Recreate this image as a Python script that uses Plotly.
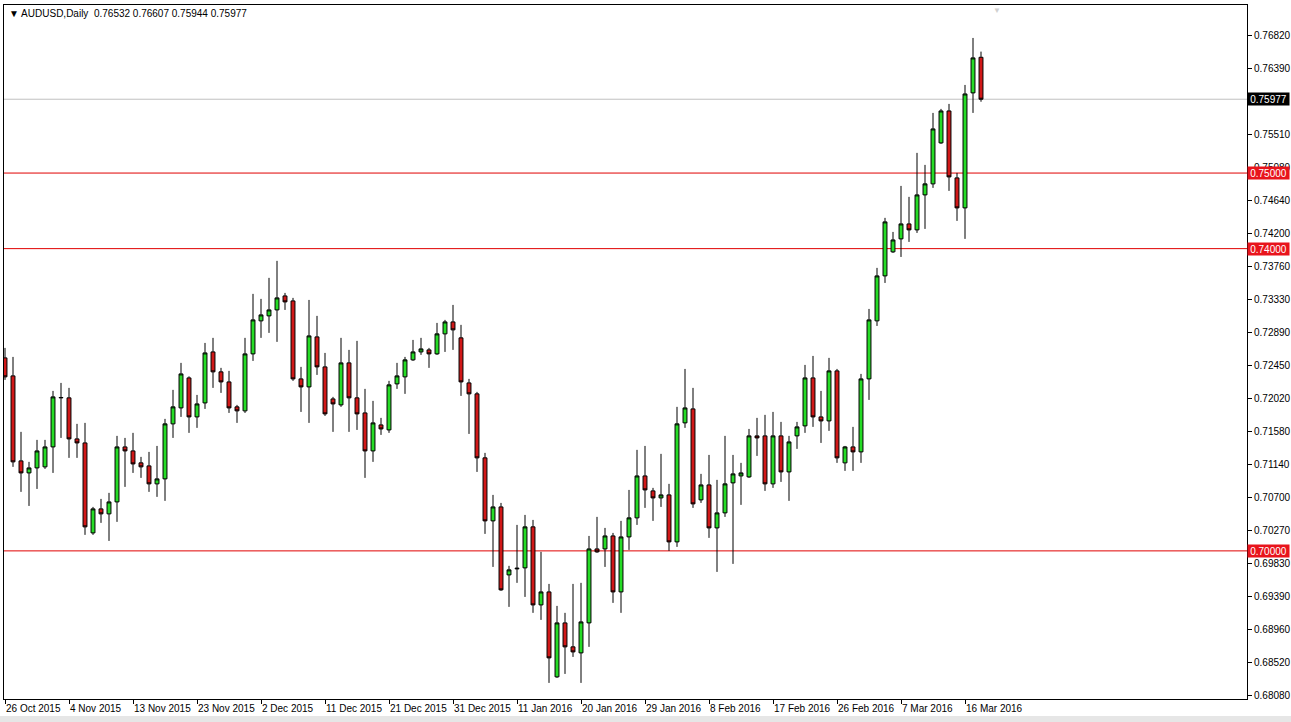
import plotly.graph_objects as go
from datetime import date

symbol = "AUDUSD"
timeframe = "Daily"

dates = [
    "2015-10-26", "2015-10-27", "2015-10-28", "2015-10-29", "2015-10-30",
    "2015-11-01", "2015-11-02", "2015-11-03", "2015-11-04", "2015-11-05", "2015-11-06",
    "2015-11-08", "2015-11-09", "2015-11-10", "2015-11-11", "2015-11-12", "2015-11-13",
    "2015-11-15", "2015-11-16", "2015-11-17", "2015-11-18", "2015-11-19", "2015-11-20",
    "2015-11-22", "2015-11-23", "2015-11-24", "2015-11-25", "2015-11-26", "2015-11-27",
    "2015-11-29", "2015-11-30",
    "2015-12-01", "2015-12-02", "2015-12-03", "2015-12-04",
    "2015-12-06", "2015-12-07", "2015-12-08", "2015-12-09", "2015-12-10", "2015-12-11",
    "2015-12-13", "2015-12-14", "2015-12-15", "2015-12-16", "2015-12-17", "2015-12-18",
    "2015-12-20", "2015-12-21", "2015-12-22", "2015-12-23", "2015-12-24",
    "2015-12-27", "2015-12-28", "2015-12-29", "2015-12-30", "2015-12-31",
    "2016-01-03", "2016-01-04", "2016-01-05", "2016-01-06", "2016-01-07", "2016-01-08",
    "2016-01-10", "2016-01-11", "2016-01-12", "2016-01-13", "2016-01-14", "2016-01-15",
    "2016-01-17", "2016-01-18", "2016-01-19", "2016-01-20", "2016-01-21", "2016-01-22",
    "2016-01-24", "2016-01-25", "2016-01-26", "2016-01-27", "2016-01-28", "2016-01-29",
    "2016-01-31",
    "2016-02-01", "2016-02-02", "2016-02-03", "2016-02-04", "2016-02-05",
    "2016-02-07", "2016-02-08", "2016-02-09", "2016-02-10", "2016-02-11", "2016-02-12",
    "2016-02-14", "2016-02-15", "2016-02-16", "2016-02-17", "2016-02-18", "2016-02-19",
    "2016-02-21", "2016-02-22", "2016-02-23", "2016-02-24", "2016-02-25", "2016-02-26",
    "2016-02-28", "2016-02-29",
    "2016-03-01", "2016-03-02", "2016-03-03", "2016-03-04",
    "2016-03-06", "2016-03-07", "2016-03-08", "2016-03-09", "2016-03-10", "2016-03-11",
    "2016-03-13", "2016-03-14", "2016-03-15", "2016-03-16", "2016-03-17", "2016-03-18",
]

opens = [
    0.72554, 0.72316, 0.71191, 0.71032, 0.71098, 0.71112, 0.71376, 0.72025, 0.72025, 0.71482,
    0.71429, 0.70238, 0.70556, 0.70490, 0.70648, 0.71376, 0.71323, 0.71165, 0.71125, 0.70887,
    0.70953, 0.71681, 0.71892, 0.72289, 0.71773, 0.71958, 0.72633, 0.72369, 0.72236, 0.71906,
    0.71853, 0.72607, 0.73044, 0.73110, 0.73189, 0.73374, 0.73308, 0.72276, 0.72170, 0.72832,
    0.72435, 0.72011, 0.71932, 0.72488, 0.72025, 0.71826, 0.71323, 0.71667, 0.71601, 0.72210,
    0.72303, 0.72528, 0.72633, 0.72660, 0.72607, 0.72872, 0.73030, 0.72819, 0.72223, 0.72078,
    0.71231, 0.70397, 0.70582, 0.69682, 0.69762, 0.69775, 0.70318, 0.69285, 0.69457, 0.68333,
    0.69047, 0.68730, 0.68650, 0.69047, 0.70026, 0.70026, 0.70198, 0.69457, 0.70185, 0.70437,
    0.70992, 0.70794, 0.70701, 0.70741, 0.70119, 0.71694, 0.71879, 0.70675, 0.70873, 0.70304,
    0.70503, 0.70900, 0.70992, 0.70979, 0.71522, 0.71522, 0.70887, 0.71522, 0.71045, 0.71522,
    0.71654, 0.72289, 0.71773, 0.71720, 0.72382, 0.71165, 0.71376, 0.71310, 0.72276, 0.73044,
    0.73639, 0.73957, 0.74129, 0.74327, 0.74248, 0.74711, 0.74857, 0.75399, 0.75822, 0.74936,
    0.74539, 0.76061, 0.76532,
]
highs = [
    0.72686, 0.72567, 0.71575, 0.71178, 0.71469, 0.71469, 0.72117, 0.72223, 0.72157, 0.71681,
    0.71694, 0.70582, 0.70688, 0.70768, 0.71522, 0.71495, 0.71562, 0.71244, 0.71310, 0.71389,
    0.71747, 0.72131, 0.72488, 0.72310, 0.72064, 0.72752, 0.72819, 0.72422, 0.72382, 0.71932,
    0.72819, 0.73401, 0.73335, 0.73613, 0.73838, 0.73414, 0.73348, 0.72435, 0.73321, 0.73110,
    0.72620, 0.72038, 0.72819, 0.72660, 0.72779, 0.72144, 0.71985, 0.71760, 0.72250, 0.72488,
    0.72567, 0.72792, 0.72819, 0.72686, 0.73017, 0.73057, 0.73255, 0.72991, 0.72276, 0.72104,
    0.71297, 0.70741, 0.70635, 0.69802, 0.70344, 0.70476, 0.70410, 0.69987, 0.69563, 0.69272,
    0.69180, 0.69563, 0.69577, 0.70198, 0.70450, 0.70304, 0.70238, 0.70397, 0.70807, 0.71337,
    0.71389, 0.70834, 0.71284, 0.70887, 0.71906, 0.72408, 0.72157, 0.71019, 0.71270, 0.70940,
    0.71522, 0.71270, 0.71165, 0.71614, 0.71760, 0.71800, 0.71839, 0.71707, 0.71522, 0.71707,
    0.72461, 0.72580, 0.72117, 0.72554, 0.72408, 0.71389, 0.71641, 0.72342, 0.73202, 0.73745,
    0.74407, 0.74221, 0.74830, 0.74685, 0.75267, 0.75108, 0.75796, 0.75849, 0.75915, 0.75002,
    0.76166, 0.76788, 0.76607,
]
lows = [
    0.72263, 0.71112, 0.70781, 0.70595, 0.70820, 0.71085, 0.71032, 0.71495, 0.71231, 0.71231,
    0.70212, 0.70212, 0.70371, 0.70132, 0.70384, 0.70847, 0.71032, 0.70966, 0.70781, 0.70715,
    0.70662, 0.71495, 0.71773, 0.71562, 0.71628, 0.71879, 0.72157, 0.72091, 0.71826, 0.71694,
    0.71826, 0.72514, 0.72819, 0.72885, 0.72766, 0.73189, 0.72250, 0.71839, 0.71694, 0.72329,
    0.71786, 0.71575, 0.71906, 0.71575, 0.71601, 0.70966, 0.71178, 0.71535, 0.71562, 0.72144,
    0.72078, 0.72514, 0.72594, 0.72422, 0.72594, 0.72633, 0.72660, 0.72051, 0.71548, 0.71045,
    0.70225, 0.69788, 0.69471, 0.69259, 0.69577, 0.69391, 0.69180, 0.69087, 0.68253, 0.68319,
    0.68372, 0.68597, 0.68253, 0.68730, 0.69974, 0.69788, 0.69312, 0.69180, 0.70013, 0.70344,
    0.70569, 0.70397, 0.70582, 0.70000, 0.70053, 0.71628, 0.70569, 0.70635, 0.70172, 0.69722,
    0.70450, 0.69828, 0.70609, 0.70966, 0.71257, 0.70794, 0.70834, 0.70913, 0.70662, 0.71350,
    0.71562, 0.71641, 0.71429, 0.71588, 0.71165, 0.71059, 0.71059, 0.71165, 0.71998, 0.72977,
    0.73546, 0.73943, 0.73890, 0.74089, 0.74208, 0.74261, 0.74804, 0.75386, 0.74764, 0.74367,
    0.74129, 0.75796, 0.75944,
]
closes = [
    0.72303, 0.71178, 0.71032, 0.71098, 0.71323, 0.71376, 0.72038, 0.72030, 0.71482, 0.71429,
    0.70318, 0.70556, 0.70490, 0.70648, 0.71376, 0.71323, 0.71151, 0.71112, 0.70887, 0.70953,
    0.71681, 0.71906, 0.72342, 0.71773, 0.71945, 0.72620, 0.72369, 0.72236, 0.71892, 0.71853,
    0.72607, 0.73057, 0.73123, 0.73189, 0.73348, 0.73295, 0.72276, 0.72170, 0.72845, 0.72435,
    0.71813, 0.71945, 0.72488, 0.72025, 0.71813, 0.71323, 0.71694, 0.71614, 0.72197, 0.72316,
    0.72528, 0.72633, 0.72673, 0.72607, 0.72872, 0.73030, 0.72925, 0.72236, 0.72078, 0.71231,
    0.70397, 0.70582, 0.69484, 0.69749, 0.69770, 0.70318, 0.69285, 0.69457, 0.68584, 0.69047,
    0.68730, 0.68663, 0.69060, 0.70026, 0.69987, 0.70198, 0.69457, 0.70185, 0.70437, 0.70992,
    0.70807, 0.70701, 0.70741, 0.70119, 0.71681, 0.71892, 0.70622, 0.70873, 0.70304, 0.70503,
    0.70887, 0.71019, 0.71032, 0.71522, 0.71495, 0.70887, 0.71522, 0.71045, 0.71442, 0.71641,
    0.72289, 0.71773, 0.71720, 0.72382, 0.71231, 0.71376, 0.71310, 0.72276, 0.73057, 0.73639,
    0.74354, 0.74115, 0.74327, 0.74248, 0.74711, 0.74857, 0.75584, 0.75822, 0.74949, 0.74539,
    0.76047, 0.76524, 0.75977,
]

level_lines = [0.75000, 0.74000, 0.70000]

price_ticks = [0.68080, 0.68520, 0.68960, 0.69390, 0.69830, 0.70270, 0.70700, 0.71140,
               0.71580, 0.72020, 0.72450, 0.72890, 0.73330, 0.73760, 0.74200, 0.74640,
               0.75080, 0.75510, 0.76390, 0.76820]

price_range = [0.68040, 0.77224]
bar_range = [-0.125, 155.25]

GREEN = "#26dc26"
RED = "#d11818"
LEVEL_RED = "#e00000"
FONT = "Liberation Sans"


def fmt_date(s):
    d = date.fromisoformat(s)
    return f"{d.day} {d.strftime('%b')} {d.year}"


label_dates = dates[::8]
label_text = [fmt_date(s) for s in label_dates]

fig = go.Figure()
fig.add_trace(go.Candlestick(
    x=dates, open=opens, high=highs, low=lows, close=closes,
    increasing=dict(line=dict(color="black", width=1), fillcolor=GREEN),
    decreasing=dict(line=dict(color="black", width=1), fillcolor=RED),
    whiskerwidth=0,
    hoverinfo="skip",
    showlegend=False,
))

shapes = []
annotations = []

# current price line
last_close = closes[-1]
shapes.append(dict(type="line", xref="paper", x0=0, x1=1, yref="y", y0=last_close, y1=last_close,
                   line=dict(color="#c0c0c0", width=1), layer="below"))
annotations.append(dict(xref="paper", x=1, xanchor="left", xshift=0, yref="y", y=last_close,
                        yanchor="middle", text=f"{last_close:.5f}", showarrow=False,
                        font=dict(family=FONT, size=10, color="white"), bgcolor="black",
                        borderpad=0, width=41, height=12, align="center"))

for lv in level_lines:
    shapes.append(dict(type="line", xref="paper", x0=0, x1=1, yref="y", y0=lv, y1=lv,
                       line=dict(color=LEVEL_RED, width=1), layer="below"))
    annotations.append(dict(xref="paper", x=1, xanchor="left", xshift=0, yref="y", y=lv,
                            yanchor="middle", text=f"{lv:.5f}", showarrow=False,
                            font=dict(family=FONT, size=10, color="white"), bgcolor="#e8141c",
                            borderpad=0, width=41, height=12, align="center"))

# header
header = (f"\u25BC {symbol},{timeframe}  {opens[-1]:.5f} {highs[-1]:.5f} "
          f"{lows[-1]:.5f} {closes[-1]:.5f}")
annotations.append(dict(xref="paper", yref="paper", x=0, y=1, xanchor="left", yanchor="top",
                        xshift=3, yshift=-1, text=header, showarrow=False,
                        font=dict(family=FONT, size=10, color="black")))

# chart shift marker
annotations.append(dict(xref="paper", yref="paper", x=0.799, y=1, xanchor="center", yanchor="top",
                        yshift=1, text="\u25BC", showarrow=False,
                        font=dict(family=FONT, size=8, color="#d0d0d0")))

# bottom strip of the window
shapes.append(dict(type="rect", xref="paper", yref="paper", x0=-0.01, x1=1.05, y0=-0.034, y1=-0.0245,
                   fillcolor="#e6e6e6", line=dict(width=0), layer="below"))

fig.update_layout(
    width=1291, height=722,
    margin=dict(l=4, r=44, t=5, b=23, autoexpand=False),
    paper_bgcolor="white", plot_bgcolor="white",
    shapes=shapes, annotations=annotations,
    showlegend=False,
    font=dict(family=FONT, size=10, color="black"),
    xaxis=dict(
        type="category", range=bar_range, rangeslider=dict(visible=False),
        showgrid=False, zeroline=False, automargin=False,
        showline=True, linecolor="black", linewidth=1, mirror=True,
        tickmode="array", tickvals=label_dates, ticktext=label_text,
        ticks="outside", ticklen=4, tickcolor="black", tickwidth=1,
        tickangle=0,
        ticklabelposition="outside right",
        tickfont=dict(family=FONT, size=10, color="black"),
        fixedrange=True,
    ),
    yaxis=dict(
        side="right", range=price_range,
        showgrid=False, zeroline=False, automargin=False,
        showline=True, linecolor="black", linewidth=1, mirror=True,
        tickmode="array", tickvals=price_ticks, ticktext=[f"{v:.5f}" for v in price_ticks],
        ticks="outside", ticklen=4, tickcolor="black", tickwidth=1,
        tickfont=dict(family=FONT, size=10, color="black"),
        fixedrange=True,
    ),
)

fig.write_html(
    "out.html",
    config={"displayModeBar": False},
    post_script="document.body.style.margin='0';document.body.style.overflow='hidden';",
)
